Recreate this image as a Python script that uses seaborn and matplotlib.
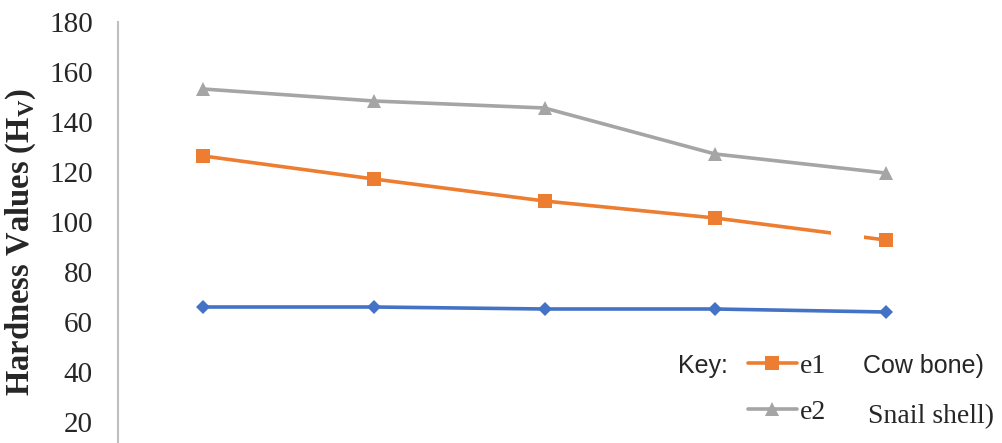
import pandas as pd
import seaborn as sns
import matplotlib.pyplot as plt
from matplotlib.patches import Rectangle

# values
samples = [0, 1, 2, 3, 4]
base = [66, 66, 65.2, 65.2, 64]
cow_bone = [126.4, 117.2, 108.4, 101.6, 92.8]
snail_shell = [153.2, 148.4, 145.6, 127.2, 119.6]
yticks = [20, 40, 60, 80, 100, 120, 140, 160, 180]

df = pd.DataFrame({
    "sample": samples * 3,
    "hv": base + cow_bone + snail_shell,
    "series": ["base"] * 5 + ["e1"] * 5 + ["e2"] * 5,
})

sns.set_style("white")
plt.rcParams["font.family"] = ["Liberation Serif", "DejaVu Serif"]

fig = plt.figure(figsize=(10.03, 4.43), dpi=100)
# axes runs off the bottom of the figure, like the cropped original
ax = fig.add_axes([118 / 1003, 1 - 472 / 443, 853 / 1003, 450 / 443])

colors = {"base": "#4472C4", "e1": "#ED7D31", "e2": "#A5A5A5"}
markers = {"base": "D", "e1": "s", "e2": "^"}
sizes = {"base": 7, "e1": 10, "e2": 10}

for name in ["base", "e1", "e2"]:
    sub = df[df["series"] == name]
    sns.lineplot(data=sub, x="sample", y="hv", ax=ax, color=colors[name],
                 marker=markers[name], markersize=sizes[name],
                 markeredgewidth=0, linewidth=2.6, label=name, legend=False)

# white box that hides part of the orange line in the original
ax.add_patch(Rectangle((3.68, 88), 0.19, 12, facecolor="white",
                       edgecolor="none", zorder=5))

ax.set_xlim(-0.5, 4.5)
ax.set_ylim(0, 180)
ax.set_yticks(yticks)
ax.set_yticklabels([str(t) for t in yticks], fontsize=21)
ax.tick_params(axis="y", length=0, pad=18)
ax.set_xticks([])
ax.set_xlabel("")
ax.set_ylabel("Hardness Values (H$_\\mathregular{V}$)", fontsize=23.5,
              fontweight="bold")
ax.yaxis.set_label_coords(-0.094, 0.511)

for side in ["top", "right", "bottom"]:
    ax.spines[side].set_visible(False)
ax.spines["left"].set_color("#BFBFBF")
ax.spines["left"].set_linewidth(1.5)

# legend ("Key:")
handles, labels = ax.get_legend_handles_labels()
leg = ax.legend(handles[1:], ["e1", "e2"], loc="center left",
                bbox_to_anchor=(748 / 1003, 1 - 389 / 443),
                bbox_transform=fig.transFigure, frameon=False,
                fontsize=20, handlelength=1.76, handletextpad=0.1,
                labelspacing=0.75, borderpad=0, borderaxespad=0)
fig.text(678 / 1003, 1 - 366 / 443, "Key:", fontsize=18,
         family="Liberation Sans", va="center")
fig.text(863 / 1003, 1 - 366 / 443, "Cow bone)", fontsize=18,
         family="Liberation Sans", va="center")
fig.text(868 / 1003, 1 - 417 / 443, "Snail shell)", fontsize=20,
         va="center")

fig.savefig("out.png", dpi=100)
